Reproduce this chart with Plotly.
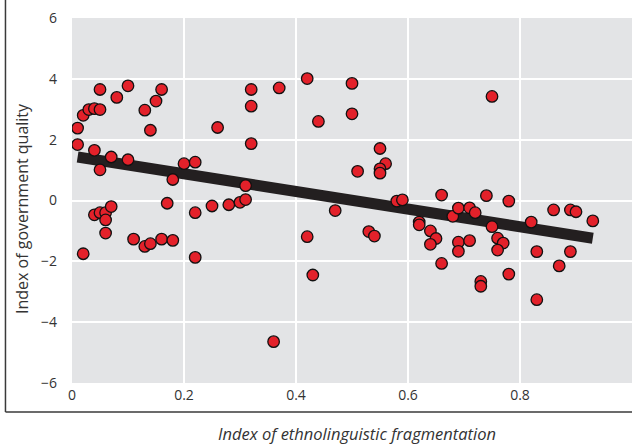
import plotly.graph_objects as go

# Index of ethnolinguistic fragmentation (x) vs. index of government quality (y)
frag = [
    0.01, 0.01, 0.02, 0.03, 0.04, 0.05, 0.05, 0.04, 0.05, 0.07,
    0.08, 0.10, 0.10, 0.13, 0.14, 0.15, 0.16, 0.18, 0.20, 0.22,
    0.26, 0.31, 0.32, 0.32, 0.32, 0.37, 0.42, 0.44, 0.50, 0.50,
    0.75, 0.55, 0.56, 0.55, 0.55, 0.51, 0.66, 0.74,
    0.17, 0.04, 0.05, 0.06, 0.07, 0.06, 0.06, 0.02, 0.11, 0.13,
    0.14, 0.16, 0.18, 0.22, 0.22, 0.25, 0.28, 0.30, 0.31, 0.36,
    0.42, 0.43, 0.47, 0.53, 0.54, 0.58, 0.59, 0.78, 0.62, 0.62,
    0.64, 0.65, 0.64, 0.66, 0.68, 0.69, 0.71, 0.72, 0.69, 0.69,
    0.71, 0.73, 0.73, 0.75, 0.76, 0.77, 0.76, 0.78, 0.82, 0.83,
    0.83, 0.86, 0.89, 0.90, 0.89, 0.87, 0.93,
]
quality = [
    2.38, 1.84, 2.80, 2.99, 3.02, 2.99, 3.65, 1.65, 1.01, 1.43,
    3.39, 3.77, 1.34, 2.97, 2.31, 3.27, 3.65, 0.69, 1.21, 1.26,
    2.40, 0.49, 3.65, 3.10, 1.87, 3.70, 4.01, 2.60, 3.85, 2.85,
    3.42, 1.71, 1.21, 1.04, 0.90, 0.96, 0.18, 0.16,
    -0.09, -0.47, -0.40, -0.40, -0.20, -0.64, -1.07, -1.75, -1.27, -1.51,
    -1.42, -1.27, -1.31, -0.40, -1.87, -0.18, -0.14, -0.06, 0.03, -4.64,
    -1.19, -2.45, -0.33, -1.02, -1.17, -0.02, 0.02, -0.02, -0.71, -0.80,
    -1.00, -1.25, -1.44, -2.07, -0.52, -0.25, -0.24, -0.40, -1.37, -1.67,
    -1.32, -2.66, -2.82, -0.86, -1.24, -1.40, -1.63, -2.42, -0.71, -1.68,
    -3.26, -0.31, -0.31, -0.37, -1.68, -2.15, -0.67,
]

# fitted regression line endpoints
fit_x = [0.01, 0.93]
fit_y = [1.43, -1.24]

x_ticks = [0, 0.2, 0.4, 0.6, 0.8, 1]
x_labels = ["0", "0.2", "0.4", "0.6", "0.8", "1"]
y_ticks = [-6, -4, -2, 0, 2, 4, 6]

TEXT = "#333333"
FONT = "'Open Sans', Lato, sans-serif"

fig = go.Figure()

fig.add_trace(go.Scatter(
    x=fit_x,
    y=fit_y,
    mode="lines",
    line=dict(color="#231f20", width=11),
    hoverinfo="skip",
))

fig.add_trace(go.Scatter(
    x=frag,
    y=quality,
    mode="markers",
    marker=dict(size=11.5, color="#e3212a", line=dict(color="#111111", width=1.3)),
))

fig.update_layout(
    width=632,
    height=445,
    margin=dict(l=72, r=0, t=18, b=62),
    paper_bgcolor="white",
    plot_bgcolor="#e3e4e6",
    showlegend=False,
    font=dict(family=FONT, size=14, color=TEXT),
    xaxis=dict(
        range=[0, 1],
        tickvals=x_ticks,
        ticktext=x_labels,
        showgrid=True,
        gridcolor="white",
        gridwidth=2,
        zeroline=False,
        showline=False,
        ticklabelstandoff=2,
    ),
    yaxis=dict(
        range=[-6, 6],
        tickvals=y_ticks,
        showgrid=True,
        gridcolor="white",
        gridwidth=2,
        zeroline=False,
        showline=False,
        ticklabelstandoff=14,
    ),
    shapes=[
        # frame: left edge and bottom edge
        dict(type="line", xref="paper", yref="paper", x0=-0.1188, x1=-0.1188, y0=-0.0795, y1=1.06,
             line=dict(color="#3a3a3a", width=1.5)),
        dict(type="line", xref="paper", yref="paper", x0=-0.1188, x1=1.01, y0=-0.0795, y1=-0.0795,
             line=dict(color="#3a3a3a", width=1.5)),
    ],
    annotations=[
        dict(text="Index of ethnolinguistic fragmentation", xref="paper", yref="paper",
             x=0.509, y=-0.137, showarrow=False, xanchor="center", yanchor="middle",
             font=dict(family=FONT, size=16.5, color=TEXT, style="italic")),
        dict(text="Index of government quality", xref="paper", yref="paper",
             x=-0.089, y=0.477, showarrow=False, textangle=-90, xanchor="center", yanchor="middle",
             font=dict(family=FONT, size=16, color=TEXT)),
    ],
)

# page body margin removed so the figure sits at the window's top-left corner
fig.write_html("out.html", config={"displayModeBar": False},
               post_script="document.body.style.margin = '0';")
